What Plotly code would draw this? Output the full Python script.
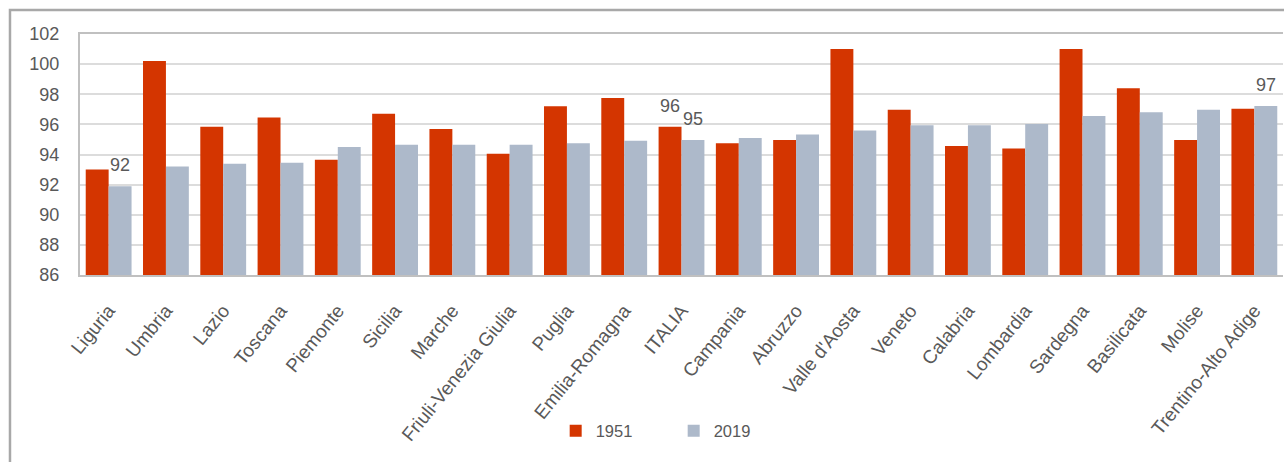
import plotly.graph_objects as go

regions = ["Liguria", "Umbria", "Lazio", "Toscana", "Piemonte", "Sicilia", "Marche",
           "Friuli-Venezia Giulia", "Puglia", "Emilia-Romagna", "ITALIA", "Campania",
           "Abruzzo", "Valle d'Aosta", "Veneto", "Calabria", "Lombardia", "Sardegna",
           "Basilicata", "Molise", "Trentino-Alto Adige"]
v1951 = [93.0, 100.2, 95.85, 96.45, 93.65, 96.7, 95.7, 94.05, 97.2, 97.75, 95.85, 94.75,
         94.97, 101.0, 96.97, 94.57, 94.4, 101.0, 98.4, 94.97, 97.03]
v2019 = [91.9, 93.2, 93.38, 93.45, 94.5, 94.65, 94.65, 94.65, 94.75, 94.92, 94.97, 95.1,
         95.33, 95.6, 95.95, 95.95, 96.02, 96.55, 96.8, 96.97, 97.22]
series_names = ["1951", "2019"]
# data labels shown in the chart: (region, series)
labelled = [("Liguria", "2019"), ("ITALIA", "1951"), ("ITALIA", "2019"),
            ("Trentino-Alto Adige", "2019")]

RED = "#d43500"
GREY = "#adb9ca"
TXT = "#595959"
FONT = "Liberation Sans, Arial, sans-serif"

fig = go.Figure()
fig.add_trace(go.Bar(name=series_names[0], x=regions, y=v1951, marker_color=RED,
                     marker_line_width=0))
fig.add_trace(go.Bar(name=series_names[1], x=regions, y=v2019, marker_color=GREY,
                     marker_line_width=0))

vals = {"1951": v1951, "2019": v2019}
for reg, ser in labelled:
    i = regions.index(reg)
    v = vals[ser][i]
    fig.add_annotation(x=reg, y=v, xref="x", yref="y", text=f"{round(v)}",
                       showarrow=False, yanchor="bottom",
                       xshift=-11.5 if ser == "1951" else 11.5, yshift=9,
                       font=dict(family=FONT, size=18, color=TXT))

# outer chart frame
fig.add_shape(type="rect", xref="paper", yref="paper", x0=-0.0582, x1=1.2,
              y0=-3, y1=1.0996, line=dict(color="#a8a8a8", width=2.5),
              fillcolor="rgba(0,0,0,0)", layer="above")

fig.update_layout(
    width=1284, height=462,
    margin=dict(l=80, r=1, t=34, b=187),
    paper_bgcolor="white", plot_bgcolor="white",
    barmode="group", bargap=0.2, bargroupgap=0,
    font=dict(family=FONT, size=17, color=TXT),
    showlegend=True,
    legend=dict(orientation="h", x=0.4935, xanchor="center", y=-0.647, yanchor="middle",
                font=dict(family=FONT, size=16.5, color=TXT), entrywidth=73,
                itemwidth=30, traceorder="normal"),
)
fig.update_yaxes(range=[86, 102], dtick=2, showgrid=True, gridcolor="#dcdcdc",
                 gridwidth=2, showline=True, linecolor="#c0c0c0", linewidth=2,
                 ticks="", ticklabelstandoff=15, zeroline=False,
                 tickfont=dict(family=FONT, size=18, color=TXT))
fig.update_xaxes(showline=True, linecolor="#c0c0c0", linewidth=2, mirror=True,
                 tickangle=-51, ticks="", ticklabelstandoff=15,
                 tickfont=dict(family=FONT, size=19, color=TXT))

fig.write_html("out.html", post_script="document.body.style.margin='0px';",
               config={"displayModeBar": False})
